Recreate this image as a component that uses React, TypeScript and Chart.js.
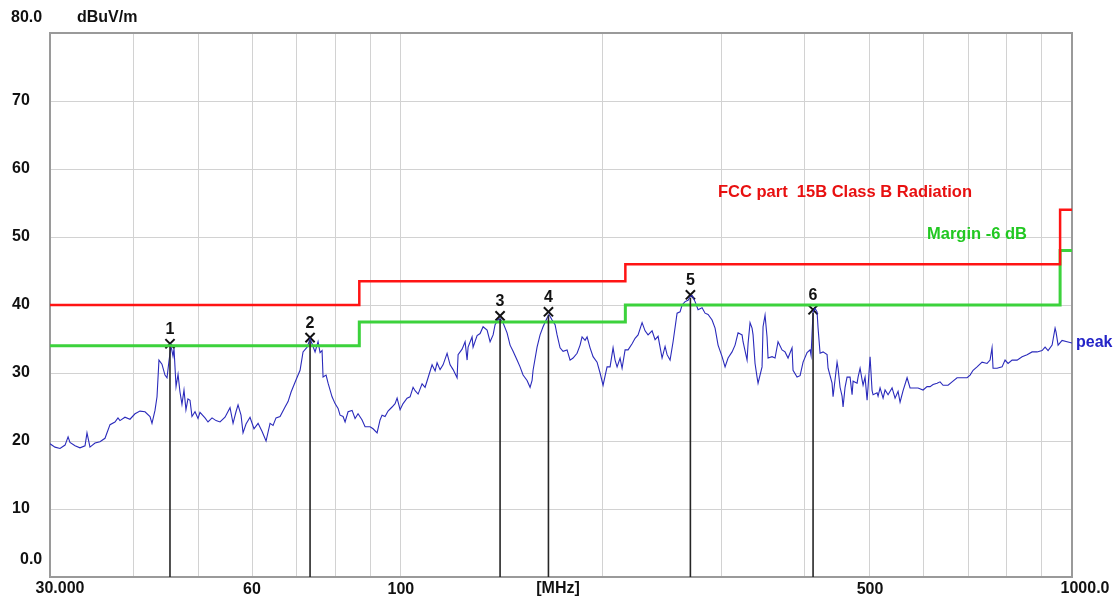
import React, { useEffect, useRef } from 'react';
import { Chart, registerables } from 'chart.js';

Chart.register(...registerables);

// Peak trace: frequency (MHz) and level (dBuV/m)
const traceFreqs: number[] = [
  30.00, 30.52, 31.05, 31.59, 31.92, 32.13, 32.69, 33.25, 33.83, 34.06,
  34.41, 35.01, 35.61, 36.23, 36.86, 37.49, 37.88, 38.14, 38.80, 39.47,
  40.16, 40.85, 41.56, 42.28, 42.57, 43.01, 43.31, 43.60, 44.05, 44.51,
  44.82, 45.13, 45.44, 45.75, 45.91, 46.23, 46.55, 46.86, 47.18, 47.51,
  47.83, 48.16, 48.50, 48.83, 49.34, 49.85, 50.19, 51.06, 51.59, 52.31,
  53.03, 53.76, 54.69, 55.64, 56.22, 56.79, 57.19, 57.78, 58.18, 58.78,
  59.59, 60.41, 61.26, 62.11, 62.96, 63.83, 64.49, 65.15, 66.06, 67.20,
  67.90, 68.61, 69.79, 70.75, 71.48, 72.48, 73.22, 73.72, 74.49, 75.26,
  75.78, 76.30, 76.56, 77.36, 77.89, 78.96, 79.78, 80.61, 81.16, 82.00,
  82.57, 83.42, 84.58, 85.45, 86.33, 87.53, 88.43, 89.96, 90.89, 92.15,
  93.10, 93.74, 94.71, 95.69, 97.01, 98.02, 98.70, 99.72, 100.75, 102.14,
  103.20, 104.27, 104.99, 106.08, 107.54, 108.65, 109.77, 111.29, 112.45, 113.22,
  114.39, 115.57, 117.17, 118.39, 119.62, 121.26, 121.68, 123.36, 124.64, 125.50,
  125.93, 127.66, 128.10, 129.88, 131.22, 132.58, 134.41, 135.80, 137.21, 138.15,
  139.58, 140.53, 141.98, 143.94, 145.44, 146.95, 148.97, 150.51, 152.07, 154.17,
  155.77, 156.84, 157.38, 159.55, 161.20, 162.87, 165.12, 166.26, 167.98, 169.72,
  170.89, 172.65, 174.44, 176.85, 178.68, 180.53, 183.02, 184.92, 186.19, 188.12,
  189.42, 191.37, 193.35, 196.02, 198.05, 200.10, 202.87, 204.97, 207.09, 208.52,
  209.96, 212.13, 213.59, 215.80, 218.03, 221.04, 223.33, 225.64, 228.76, 231.12,
  233.51, 236.74, 239.19, 241.67, 245.01, 247.54, 249.25, 251.82, 254.43, 257.95,
  260.61, 262.41, 265.12, 267.86, 269.70, 271.56, 274.37, 277.21, 281.04, 283.95,
  286.89, 290.85, 293.86, 296.90, 301.00, 304.11, 307.26, 311.50, 314.72, 317.98,
  322.38, 323.48, 327.95, 329.08, 331.34, 333.62, 334.77, 337.07, 339.39, 340.56,
  345.26, 346.45, 348.83, 351.23, 352.44, 357.30, 361.00, 364.74, 369.78, 373.60,
  377.47, 382.68, 384.00, 389.30, 393.38, 397.45, 402.94, 407.10, 408.50, 411.31,
  414.14, 416.99, 418.43, 421.31, 425.67, 431.55, 433.04, 439.01, 440.52, 446.61,
  448.14, 451.23, 454.34, 455.90, 459.03, 462.19, 467.00, 470.22, 471.83, 478.35,
  480.00, 483.30, 486.63, 488.30, 491.66, 495.05, 496.75, 500.17, 503.62, 505.35,
  512.33, 514.09, 517.62, 522.98, 526.58, 532.03, 539.38, 544.95, 550.59, 554.39,
  560.13, 567.87, 573.74, 583.66, 589.70, 599.91, 608.19, 614.48, 620.84, 629.42,
  635.93, 642.51, 653.63, 662.70, 674.10, 685.80, 697.70, 704.90, 712.20, 722.00,
  734.50, 747.20, 754.90, 760.10, 762.70, 773.30, 786.70, 794.80, 803.00, 814.20,
  828.30, 842.60, 857.20, 872.00, 887.10, 902.50, 911.80, 921.20, 934.00, 943.60,
  946.80, 953.40, 966.50, 983.20, 1000.00,
];

const traceLevels: number[] = [
  19.6, 19.1, 18.9, 19.4, 20.6, 19.8, 19.3, 19.0, 19.3, 21.2,
  19.1, 19.7, 19.9, 20.4, 22.4, 22.8, 23.4, 23.0, 23.5, 23.2,
  24.0, 24.4, 24.3, 23.6, 22.6, 24.5, 26.5, 31.9, 31.3, 29.7,
  29.3, 31.8, 34.0, 32.5, 33.6, 28.0, 29.8, 27.2, 25.4, 27.5,
  24.6, 26.2, 26.0, 23.6, 24.3, 23.3, 24.2, 23.4, 22.8, 23.4,
  23.0, 22.8, 23.5, 24.9, 22.6, 24.3, 25.3, 23.8, 21.2, 22.5,
  23.5, 21.8, 22.6, 21.4, 20.0, 22.6, 22.3, 23.4, 23.6, 25.0,
  25.8, 27.2, 29.0, 30.4, 33.1, 33.8, 35.0, 34.3, 33.1, 34.6,
  33.0, 33.3, 29.4, 29.7, 28.5, 26.5, 25.5, 24.8, 23.8, 23.6,
  22.8, 24.3, 24.5, 23.3, 24.0, 23.1, 22.1, 22.1, 21.8, 21.2,
  23.1, 23.8, 23.6, 24.4, 25.0, 25.5, 26.3, 24.6, 25.5, 26.3,
  26.5, 27.9, 27.4, 26.9, 28.4, 27.9, 29.3, 31.2, 30.3, 31.5,
  30.5, 31.2, 32.9, 31.2, 30.5, 29.3, 32.7, 33.5, 34.6, 31.9,
  33.8, 35.3, 33.8, 35.5, 35.8, 36.8, 36.3, 34.6, 35.6, 37.1,
  37.8, 38.0, 37.4, 35.9, 34.1, 33.2, 31.9, 30.9, 29.7, 28.9,
  27.9, 28.9, 30.4, 33.8, 35.6, 36.8, 38.1, 38.6, 37.8, 37.1,
  35.6, 33.7, 33.2, 33.4, 31.9, 32.2, 32.9, 34.1, 35.3, 34.8,
  35.3, 33.7, 32.4, 31.6, 30.0, 28.2, 30.9, 30.9, 33.7, 31.9,
  30.9, 32.2, 30.7, 33.4, 33.4, 34.3, 35.1, 35.6, 37.4, 36.2,
  35.6, 36.2, 34.9, 35.4, 32.2, 33.9, 32.7, 31.9, 34.6, 38.8,
  39.0, 40.0, 40.5, 40.7, 41.2, 41.4, 40.5, 39.3, 39.6, 38.8,
  38.6, 37.8, 36.6, 34.1, 32.4, 30.9, 32.2, 33.1, 34.1, 35.9,
  35.6, 34.6, 31.9, 34.3, 37.4, 36.6, 35.6, 31.4, 29.4, 28.5,
  30.9, 36.8, 38.5, 35.3, 32.2, 32.4, 32.2, 34.6, 33.4, 33.1,
  32.2, 33.7, 30.4, 29.4, 29.6, 31.6, 33.0, 33.4, 32.6, 39.0,
  39.5, 39.0, 36.6, 32.9, 33.1, 32.7, 30.7, 28.5, 26.5, 31.6,
  30.7, 27.9, 26.6, 25.0, 27.9, 29.4, 29.4, 26.8, 28.8, 28.5,
  29.4, 30.7, 29.0, 28.2, 29.4, 26.0, 28.0, 32.4, 27.4, 26.8,
  27.1, 26.6, 27.8, 26.3, 27.5, 26.8, 27.8, 26.3, 27.3, 25.7,
  27.4, 29.3, 27.8, 27.8, 27.8, 27.5, 28.0, 28.0, 28.3, 28.5,
  28.7, 28.2, 28.2, 28.7, 29.3, 29.3, 29.3, 29.7, 30.4, 30.9,
  31.6, 31.4, 31.9, 33.7, 30.7, 30.7, 30.9, 31.9, 31.4, 31.9,
  31.9, 32.4, 32.7, 33.1, 33.1, 33.3, 33.8, 33.3, 34.1, 36.6,
  36.0, 34.1, 34.8, 34.6, 34.4,
];

// FCC part 15B Class B limit and -6 dB margin (step lines)
const limitFreqs: number[] = [30, 86.7, 86.7, 216, 216, 960, 960, 1000];
const limitLevels: number[] = [40, 40, 43.5, 43.5, 46, 46, 54, 54];
const marginLevels: number[] = [34, 34, 37.5, 37.5, 40, 40, 48, 48];

// Markers
const markerFreqs: number[] = [45.28, 73.22, 140.53, 165.9, 270.0, 411.3];
const markerLevels: number[] = [34.3, 35.2, 38.4, 39.0, 41.5, 39.3];
const markerNames: string[] = ['1', '2', '3', '4', '5', '6'];

// Axes
const xGridTicks: number[] = [30, 40, 50, 60, 70, 80, 90, 100, 200, 300, 400, 500, 600, 700, 800, 900, 1000];
const xTickLabels: Record<number, string> = { 60: '60', 100: '100', 500: '500' };
const yMin = 0;
const yMax = 80;
const yStep = 10;

const FONT = "'Liberation Sans', Arial, Helvetica, sans-serif";

export default function App() {
  const ref = useRef<HTMLCanvasElement>(null);

  useEffect(() => {
    const canvas = ref.current;
    if (!canvas) return;
    const pts = (xs: number[], ys: number[]) => xs.map((x, i) => ({ x, y: ys[i] }));

    const overlay = {
      id: 'overlay',
      beforeDatasetsDraw(chart: any) {
        const { ctx, chartArea: a } = chart;
        ctx.save();
        ctx.strokeStyle = '#9a9a9a';
        ctx.lineWidth = 2;
        ctx.strokeRect(a.left, a.top, a.right - a.left, a.bottom - a.top);
        ctx.restore();
      },
      afterDatasetsDraw(chart: any) {
        const { ctx, chartArea: a, scales } = chart;
        const xs = scales.x;
        const ys = scales.y;
        ctx.save();
        // marker drop lines
        ctx.strokeStyle = '#262626';
        ctx.lineWidth = 1.6;
        markerFreqs.forEach((f, i) => {
          const px = xs.getPixelForValue(f);
          const py = ys.getPixelForValue(markerLevels[i]);
          ctx.beginPath();
          ctx.moveTo(px, py + 3);
          ctx.lineTo(px, a.bottom);
          ctx.stroke();
        });
        // marker numbers
        ctx.font = `bold 16px ${FONT}`;
        ctx.fillStyle = '#111';
        ctx.textAlign = 'center';
        ctx.textBaseline = 'middle';
        markerFreqs.forEach((f, i) => {
          const px = xs.getPixelForValue(f);
          const py = ys.getPixelForValue(markerLevels[i]);
          ctx.fillText(markerNames[i], px, py - 14);
        });
        // axis edge labels
        ctx.textAlign = 'left';
        ctx.fillText('80.0', 11, a.top - 15);
        ctx.fillText('dBuV/m', 77, a.top - 15);
        ctx.fillText('0.0', 20, a.bottom - 17);
        ctx.textAlign = 'center';
        const xLabelY = a.bottom + 11.5;
        ctx.fillText('30.000', a.left + 10, xLabelY);
        ctx.fillText('[MHz]', (a.left + a.right) / 2 - 3, xLabelY);
        ctx.fillText('1000.0', a.right + 13, xLabelY);
        // legend texts
        ctx.textAlign = 'left';
        ctx.font = `bold 16.5px ${FONT}`;
        ctx.fillStyle = '#e81010';
        ctx.fillText('FCC part  15B Class B Radiation', 718, 192);
        ctx.fillStyle = '#22c822';
        ctx.fillText('Margin -6 dB', 927, 234);
        ctx.fillStyle = '#2424c8';
        ctx.font = `bold 16px ${FONT}`;
        ctx.fillText('peak', a.right + 4, ys.getPixelForValue(traceLevels[traceLevels.length - 1]));
        ctx.restore();
      },
    };

    const chart = new Chart(canvas, {
      type: 'scatter',
      data: {
        datasets: [
          {
            label: 'FCC part 15B Class B Radiation',
            data: pts(limitFreqs, limitLevels),
            showLine: true,
            borderColor: '#ff1414',
            borderWidth: 2.5,
            pointRadius: 0,
          },
          {
            label: 'Margin -6 dB',
            data: pts(limitFreqs, marginLevels),
            showLine: true,
            borderColor: '#3cd23c',
            borderWidth: 3,
            pointRadius: 0,
          },
          {
            label: 'peak',
            data: pts(traceFreqs, traceLevels),
            showLine: true,
            borderColor: '#2a2abb',
            borderWidth: 1.1,
            pointRadius: 0,
          },
          {
            label: 'markers',
            data: pts(markerFreqs, markerLevels),
            showLine: false,
            pointStyle: 'crossRot',
            pointRadius: 6.5,
            pointBorderWidth: 2,
            pointBorderColor: '#111',
            pointBackgroundColor: '#111',
          },
        ],
      },
      options: {
        responsive: false,
        animation: false,
        devicePixelRatio: 1,
        events: [],
        layout: { padding: { left: 12, top: 33, right: 43, bottom: 0 } },
        plugins: { legend: { display: false }, tooltip: { enabled: false } },
        scales: {
          x: {
            type: 'logarithmic',
            min: 30,
            max: 1000,
            afterBuildTicks: (s: any) => {
              s.ticks = xGridTicks.map((v) => ({ value: v }));
            },
            afterFit: (s: any) => {
              s.height = 19;
            },
            ticks: {
              autoSkip: false,
              maxRotation: 0,
              padding: 3,
              color: '#111',
              font: { family: FONT, size: 16, weight: 'bold' },
              callback: (v: any) => xTickLabels[Number(v)] ?? '',
            },
            grid: { color: '#d2d2d2', lineWidth: 1, drawTicks: false },
            border: { display: false },
          },
          y: {
            min: yMin,
            max: yMax,
            afterFit: (s: any) => {
              s.width = 38;
            },
            ticks: {
              stepSize: yStep,
              crossAlign: 'far',
              color: '#111',
              font: { family: FONT, size: 16, weight: 'bold' },
              callback: (v: any) => (Number(v) === yMin || Number(v) === yMax ? '' : String(v)),
            },
            grid: { color: '#d2d2d2', lineWidth: 1, drawTicks: false },
            border: { display: false },
          },
        },
      },
      plugins: [overlay],
    } as any);

    return () => chart.destroy();
  }, []);

  return (
    <div style={{ position: 'fixed', left: 0, top: 0, width: 1115, height: 596, background: '#fff' }}>
      <canvas ref={ref} width={1115} height={596} style={{ display: 'block' }} />
    </div>
  );
}
